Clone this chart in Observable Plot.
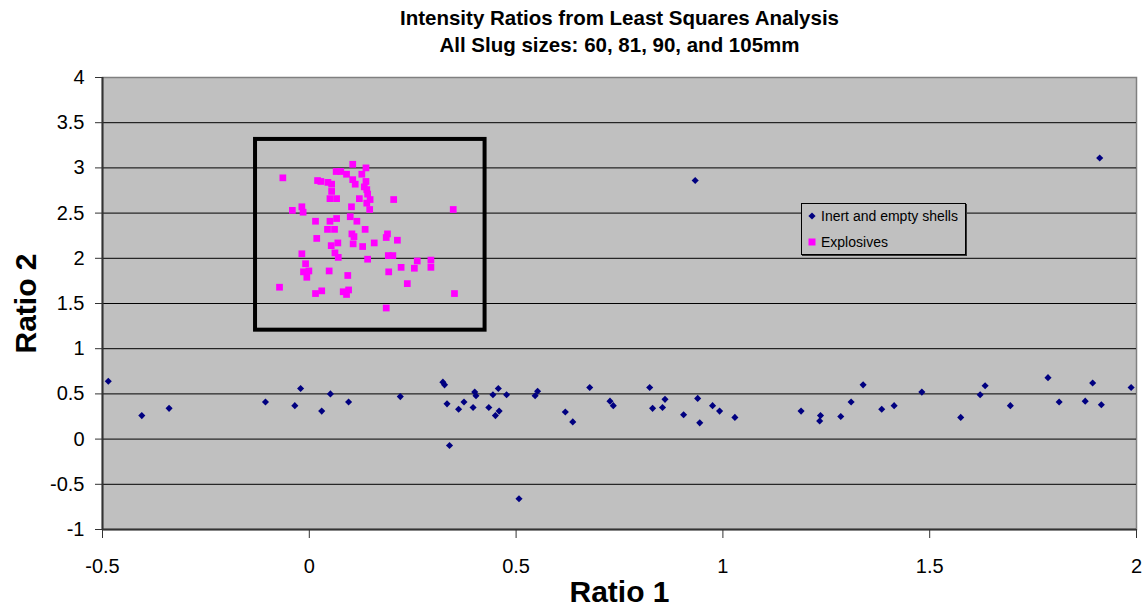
<!DOCTYPE html>
<html>
<head>
<meta charset="utf-8">
<script src="https://cdn.jsdelivr.net/npm/d3@7"></script>
<script src="https://cdn.jsdelivr.net/npm/@observablehq/plot@0.6"></script>
<style>
  html, body { margin: 0; padding: 0; background: #fff; }
  #wrap { position: relative; width: 1146px; height: 609px; font-family: Arial, "Liberation Sans", sans-serif; }
  #legend { position: absolute; left: 801px; top: 203px; width: 165px; height: 52px; box-sizing: border-box;
    background: #c0c0c0; border: 1px solid #000; box-shadow: 1px 1px 0 #333; font-size: 14px; color: #000; }
  #legend .row { position: absolute; left: 0; display: flex; align-items: center; white-space: nowrap; }
  #legend svg { margin-left: 6px; margin-right: 5px; }
</style>
</head>
<body>
<div id="wrap"></div>
<script>
const title1 = "Intensity Ratios from Least Squares Analysis";
const title2 = "All Slug sizes: 60, 81, 90, and 105mm";
const xLabel = "Ratio 1";
const yLabel = "Ratio 2";
const seriesNames = ["Inert and empty shells", "Explosives"];
const seriesColors = ["#000080", "#ff00ff"];
const xTicks = [-0.5, 0, 0.5, 1, 1.5, 2];
const yTicks = [-1, -0.5, 0, 0.5, 1, 1.5, 2, 2.5, 3, 3.5, 4];

const inertX = [-0.486,-0.405,-0.339,-0.106,-0.035,-0.021,0.030,0.051,0.095,0.220,0.323,0.327,0.333,0.339,0.361,0.374,0.396,0.400,0.403,0.434,0.444,0.457,0.459,0.450,0.477,0.507,0.546,0.552,0.619,0.637,0.678,0.727,0.735,0.823,0.830,0.854,0.860,0.905,0.939,0.944,0.975,0.992,1.029,1.189,1.236,1.234,1.285,1.310,1.339,1.384,1.414,1.481,1.575,1.622,1.634,1.695,1.786,1.813,1.876,1.894,1.915,1.987,0.933,1.911];
const inertY = [0.64,0.26,0.34,0.41,0.37,0.56,0.31,0.50,0.41,0.47,0.63,0.60,0.39,-0.07,0.33,0.41,0.35,0.52,0.48,0.35,0.49,0.56,0.31,0.26,0.49,-0.66,0.48,0.53,0.30,0.19,0.57,0.42,0.37,0.57,0.34,0.35,0.44,0.27,0.45,0.18,0.37,0.31,0.24,0.31,0.26,0.20,0.25,0.41,0.60,0.33,0.37,0.52,0.24,0.49,0.59,0.37,0.68,0.41,0.42,0.62,0.38,0.57,2.86,3.11];

const explX = [0.105,0.137,-0.064,0.065,0.076,0.090,0.127,0.020,0.028,0.045,0.054,0.105,0.111,0.137,0.139,0.054,0.141,0.050,0.066,0.121,0.147,0.139,0.204,0.102,0.146,0.348,-0.041,-0.018,-0.015,0.015,0.050,0.066,0.099,0.115,0.044,0.061,0.135,0.018,0.103,0.108,0.189,0.186,0.213,0.069,0.053,0.106,0.129,0.157,-0.018,0.062,0.070,0.141,0.191,0.202,0.261,0.294,0.294,0.254,0.222,-0.009,-0.014,-0.001,-0.006,0.048,0.093,0.192,0.237,-0.072,0.015,0.030,0.082,0.095,0.090,0.351,0.186,0.133];
const explY = [3.04,3.00,2.89,2.96,2.96,2.93,2.93,2.86,2.85,2.84,2.82,2.87,2.82,2.85,2.76,2.74,2.71,2.66,2.66,2.66,2.65,2.61,2.65,2.57,2.54,2.54,2.53,2.57,2.51,2.41,2.41,2.44,2.46,2.41,2.32,2.32,2.32,2.22,2.27,2.24,2.27,2.23,2.20,2.17,2.14,2.16,2.13,2.17,2.05,2.06,2.01,1.99,2.03,2.03,1.97,1.98,1.90,1.89,1.90,1.94,1.85,1.86,1.79,1.86,1.81,1.85,1.72,1.68,1.61,1.64,1.63,1.65,1.60,1.61,1.45,2.79];

// highlight box annotation (data coordinates)
const boxX = [-0.13, 0.425];
const boxY = [1.205, 3.315];

const inert = inertX.map((x, i) => ({x, y: inertY[i]}));
const expl = explX.map((x, i) => ({x, y: explY[i]}));
const box = [{x1: boxX[0], x2: boxX[1], y1: boxY[0], y2: boxY[1]}];

const fmt = d => String(d);

const chart = Plot.plot({
  width: 1146,
  height: 609,
  marginLeft: 102,
  marginRight: 10,
  marginTop: 77,
  marginBottom: 80,
  style: {fontFamily: "Arial, 'Liberation Sans', sans-serif", background: "#fff", color: "#000"},
  x: {domain: [-0.5, 2], ticks: xTicks},
  y: {domain: [-1, 4], ticks: yTicks},
  marks: [
    Plot.frame({fill: "#c0c0c0", stroke: "#808080", strokeWidth: 1.5}),
    Plot.gridY(yTicks.filter(d => d > -1 && d < 4), {stroke: "#000", strokeOpacity: 1, strokeWidth: 1}),
    Plot.ruleX([-0.5], {stroke: "#333", strokeWidth: 2}),
    Plot.ruleY([-1], {stroke: "#333", strokeWidth: 2}),
    Plot.axisY(yTicks, {tickSize: 7, tickPadding: 11, tickFormat: fmt, fontSize: 20, label: null, stroke: "#333"}),
    Plot.axisX(xTicks, {tickSize: 9, tickPadding: 20, tickFormat: fmt, fontSize: 20, label: null, stroke: "#333"}),
    Plot.rect(box, {x1: "x1", x2: "x2", y1: "y1", y2: "y2", fill: "none", stroke: "#000", strokeWidth: 4}),
    Plot.dot(inert, {x: "x", y: "y", symbol: "diamond2", r: 3.2, fill: seriesColors[0], stroke: "none"}),
    Plot.dot(expl, {x: "x", y: "y", symbol: "square", r: 3.8, fill: seriesColors[1], stroke: "none"}),
    Plot.text([title1], {text: d => d, frameAnchor: "top", dy: -53, lineAnchor: "bottom", fontSize: 20.5, fontWeight: "bold"}),
    Plot.text([title2], {text: d => d, frameAnchor: "top", dy: -26, lineAnchor: "bottom", fontSize: 20.5, fontWeight: "bold"}),
    Plot.text([xLabel], {text: d => d, frameAnchor: "bottom", dy: 72, lineAnchor: "bottom", fontSize: 30, fontWeight: "bold"}),
    Plot.text([yLabel], {text: d => d, frameAnchor: "left", textAnchor: "middle", dx: -76, rotate: -90, lineAnchor: "middle", fontSize: 30, fontWeight: "bold"})
  ]
});

const wrap = document.getElementById("wrap");
wrap.appendChild(chart);

const legend = document.createElement("div");
legend.id = "legend";
const symbols = [
  '<svg width="8" height="8" viewBox="-4 -4 8 8"><path d="M0,-3.6L3.6,0L0,3.6L-3.6,0Z" fill="' + seriesColors[0] + '"/></svg>',
  '<svg width="8" height="8" viewBox="-4 -4 8 8"><rect x="-3.5" y="-3.5" width="7" height="7" fill="' + seriesColors[1] + '"/></svg>'
];
seriesNames.forEach((name, i) => {
  const row = document.createElement("div");
  row.className = "row";
  row.style.top = (i === 0 ? 3 : 29) + "px";
  row.style.height = "18px";
  row.innerHTML = symbols[i] + "<span>" + name + "</span>";
  legend.appendChild(row);
});
wrap.appendChild(legend);
</script>
</body>
</html>
